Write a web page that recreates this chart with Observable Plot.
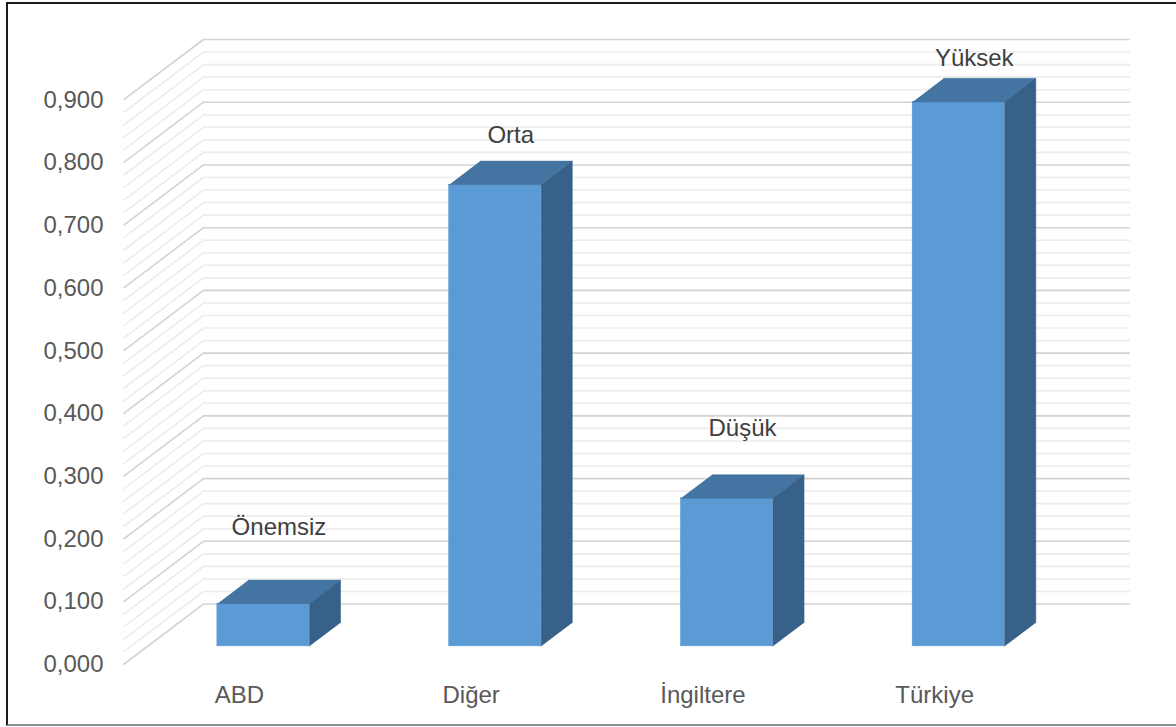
<!DOCTYPE html>
<html>
<head>
<meta charset="utf-8">
<script src="https://cdn.jsdelivr.net/npm/d3@7"></script>
<script src="https://cdn.jsdelivr.net/npm/@observablehq/plot@0.6"></script>
<style>
  html, body { margin: 0; padding: 0; background: #fff; }
  #chart { position: relative; width: 1176px; height: 727px; overflow: hidden; }
  #chart svg { position: absolute; left: 0; top: 0; }
  #frame {
    position: absolute; left: 6px; top: 2px; width: 1200px; height: 720px;
    border-top: 2px solid #1a1a1a; border-left: 2px solid #1a1a1a; border-bottom: 2px solid #8c8c8c;
    pointer-events: none;
  }
</style>
</head>
<body>
<div id="chart"><div id="frame"></div></div>
<script>
// Countries and their scores
const categories = ["ABD", "Diğer", "İngiltere", "Türkiye"];
const values = [0.068, 0.736, 0.236, 0.868];
// Level label shown above each column
const levels = ["Önemsiz", "Orta", "Düşük", "Yüksek"];
// Value axis ticks
const yTicks = [0, 0.1, 0.2, 0.3, 0.4, 0.5, 0.6, 0.7, 0.8, 0.9];
const yMax = 0.9;

// Oblique 3D box: depth of the plot volume in category units (x) and value units (y)
const DX = 0.345, DY = 0.0964;
// Column width (category units) and its front / depth position as fractions of the volume depth
const W = 0.397, F = 0.30, D = 0.39;

const FRONT = "#5b9bd5", TOP = "#4474a1", SIDE = "#386189";
const MAJOR = "#d3d3d3", MINOR = "#ececec";

// Gridline levels every 0.02, major every 0.1
const grid = d3.range(0, Math.round(yMax / 0.02) + 1).map(k => ({v: k * 0.02, major: k % 5 === 0}));
const minorGrid = grid.filter(g => !g.major);
const majorGrid = grid.filter(g => g.major);

const rows = categories.map((c, i) => ({i, c, v: values[i], level: levels[i]}));

// Faces of each column in data space
const tops = [], sides = [];
for (const r of rows) {
  const x0 = r.i + 0.5 - W / 2, x1 = r.i + 0.5 + W / 2;
  const fx = F * DX, fy = F * DY, bx = (F + D) * DX, by = (F + D) * DY;
  tops.push(
    {bar: r.i, x: x0 + fx, y: r.v + fy},
    {bar: r.i, x: x1 + fx, y: r.v + fy},
    {bar: r.i, x: x1 + bx, y: r.v + by},
    {bar: r.i, x: x0 + bx, y: r.v + by}
  );
  sides.push(
    {bar: r.i, x: x1 + fx, y: fy},
    {bar: r.i, x: x1 + fx, y: r.v + fy},
    {bar: r.i, x: x1 + bx, y: r.v + by},
    {bar: r.i, x: x1 + bx, y: by}
  );
}

const wallLines = (data, stroke) => [
  // side wall (diagonals from the front edge to the back wall)
  Plot.link(data, {x1: 0, y1: d => d.v, x2: DX, y2: d => d.v + DY, stroke, strokeWidth: 1.6}),
  // back wall
  Plot.ruleY(data, {y: d => d.v + DY, x1: DX, x2: categories.length + DX, stroke, strokeWidth: 1.6})
];

const chart = Plot.plot({
  width: 1176,
  height: 727,
  marginLeft: 123,
  marginRight: 46,
  marginTop: 39,
  marginBottom: 63,
  style: {fontFamily: "'Liberation Sans', Arial, sans-serif", fontSize: "24px", background: "transparent"},
  x: {type: "linear", domain: [0, categories.length + DX]},
  y: {type: "linear", domain: [0, yMax + DY]},
  marks: [
    ...wallLines(minorGrid, MINOR),
    ...wallLines(majorGrid, MAJOR),
    Plot.axisY({
      ticks: yTicks,
      tickFormat: d => d.toFixed(3).replace(".", ","),
      tickSize: 0,
      tickPadding: 20,
      label: null,
      fill: "#595959",
      fontSize: 24
    }),
    Plot.axisX({
      ticks: categories.map((_, i) => i + 0.5),
      tickFormat: d => categories[Math.round(d - 0.5)],
      tickSize: 0,
      tickPadding: 21,
      label: null,
      fill: "#595959",
      fontSize: 24
    }),
    // column fronts
    Plot.rect(rows, {
      x1: d => d.i + 0.5 - W / 2 + F * DX,
      x2: d => d.i + 0.5 + W / 2 + F * DX,
      y1: F * DY,
      y2: d => d.v + F * DY,
      fill: FRONT,
      stroke: FRONT,
      strokeWidth: 0.5
    }),
    // column tops
    Plot.line(tops, {x: "x", y: "y", z: "bar", fill: TOP, stroke: TOP, strokeWidth: 0.5}),
    // column right sides
    Plot.line(sides, {x: "x", y: "y", z: "bar", fill: SIDE, stroke: SIDE, strokeWidth: 0.5}),
    // level labels, placed just above each column top
    Plot.text(rows, {
      x: d => d.i + 0.5 + (F + D / 2) * DX,
      y: d => d.v * 0.935 + 0.143,
      text: "level",
      lineAnchor: "bottom",
      textAnchor: "middle",
      fill: "#404040",
      fontSize: 24
    })
  ]
});

document.getElementById("chart").prepend(chart);
</script>
</body>
</html>
